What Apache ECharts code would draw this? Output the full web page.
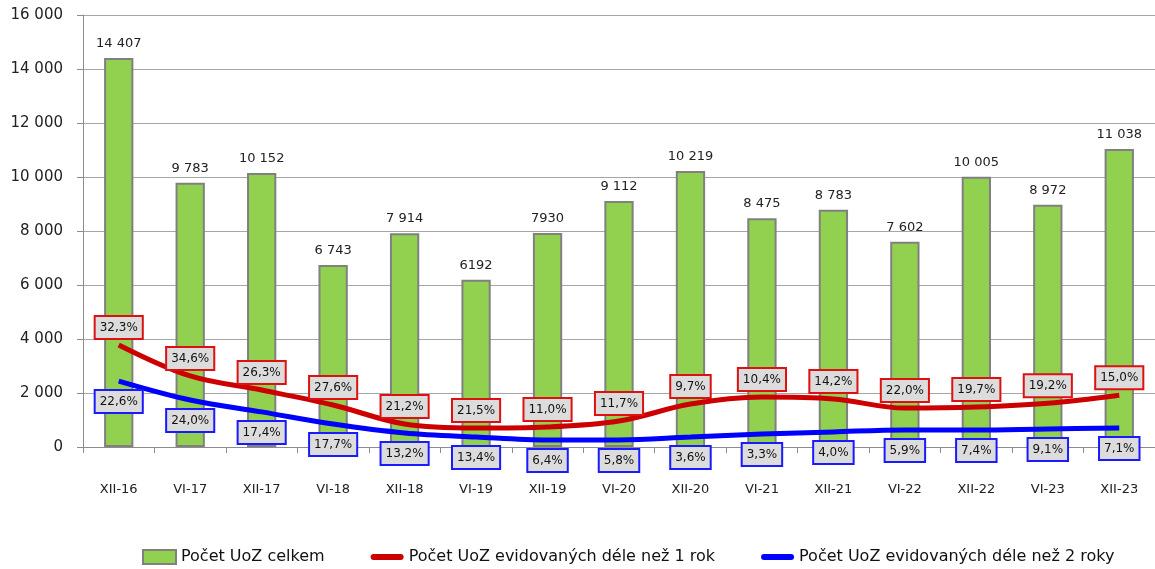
<!DOCTYPE html>
<html>
<head>
<meta charset="utf-8">
<script src="https://cdn.jsdelivr.net/npm/echarts@6/dist/echarts.min.js"></script>
<style>
html,body{margin:0;padding:0;background:#fff;}
#c{width:1155px;height:569px;}
</style>
</head>
<body>
<div id="c"></div>
<script>
const categories = ['XII-16','VI-17','XII-17','VI-18','XII-18','VI-19','XII-19','VI-20','XII-20','VI-21','XII-21','VI-22','XII-22','VI-23','XII-23'];
const totalValues = [14407, 9783, 10152, 6743, 7914, 6192, 7930, 9112, 10219, 8475, 8783, 7602, 10005, 8972, 11038];
const totalLabels = ['14 407','9 783','10 152','6 743','7 914','6192','7930','9 112','10 219','8 475','8 783','7 602','10 005','8 972','11 038'];
const over1Values = [3780, 2630, 2110, 1555, 850, 700, 740, 960, 1590, 1850, 1780, 1440, 1480, 1620, 1920];
const over1Pct = ['32,3%','34,6%','26,3%','27,6%','21,2%','21,5%','11,0%','11,7%','9,7%','10,4%','14,2%','22,0%','19,7%','19,2%','15,0%'];
const over2Values = [2440, 1740, 1300, 850, 520, 370, 260, 260, 370, 480, 560, 630, 630, 670, 700];
const over2Pct = ['22,6%','24,0%','17,4%','17,7%','13,2%','13,4%','6,4%','5,8%','3,6%','3,3%','4,0%','5,9%','7,4%','9,1%','7,1%'];
const seriesNames = ['Počet UoZ celkem','Počet UoZ evidovaných déle než 1 rok','Počet UoZ evidovaných déle než 2 roky'];

const FONT = '"DejaVu Sans", "Liberation Sans", sans-serif';
function fmt(v){ return String(v).replace(/\B(?=(\d{3})+(?!\d))/g,' '); }

const chart = echarts.init(document.getElementById('c'), null, {renderer:'canvas'});
const linePath = 'path://M3,0 H30 A3,3 0 0 1 30,6 H3 A3,3 0 0 1 3,0 Z';
const pctLabel = (border, pos, dist, arr) => ({
  show:true, position:pos, distance:dist, fontSize:12, color:'#111', fontFamily:FONT,
  backgroundColor:'#dcdcdc', borderColor:border, borderWidth:2, padding:[5,4,4,4],
  formatter:p=>arr[p.dataIndex]
});
chart.setOption({
  animation:false,
  backgroundColor:'#fff',
  textStyle:{fontFamily:FONT},
  grid:{left:83, right:-6, top:15, bottom:122, containLabel:false},
  legend:{
    left:137, top:544, itemGap:46, itemWidth:33, itemHeight:14,
    textStyle:{fontSize:16, color:'#111', fontFamily:FONT},
    data:[
      {name:seriesNames[0], icon:'rect'},
      {name:seriesNames[1], icon:linePath, itemStyle:{color:'#cc0000'}},
      {name:seriesNames[2], icon:linePath, itemStyle:{color:'#0000ff'}}
    ]
  },
  xAxis:{
    type:'category', data:categories, boundaryGap:true,
    axisLine:{lineStyle:{color:'#8c8c8c', width:1}},
    axisTick:{show:true, length:6, lineStyle:{color:'#8c8c8c'}},
    axisLabel:{fontSize:13, color:'#222', margin:36, fontFamily:FONT}
  },
  yAxis:{
    type:'value', min:0, max:16000, interval:2000,
    axisLine:{show:true, lineStyle:{color:'#8c8c8c'}},
    axisTick:{show:true, length:6, lineStyle:{color:'#8c8c8c'}},
    splitLine:{lineStyle:{color:'#a6a6a6', width:1}},
    axisLabel:{fontSize:15, color:'#222', margin:20, formatter:fmt, fontFamily:FONT}
  },
  series:[
    {
      name:seriesNames[0], type:'bar', data:totalValues, barWidth:'41%',
      itemStyle:{color:'#92d050', borderColor:'#808080', borderWidth:2},
      label:{show:true, position:'top', distance:8, fontSize:13, color:'#222', fontFamily:FONT,
        formatter:p=>totalLabels[p.dataIndex]}
    },
    {
      name:seriesNames[1], type:'line', data:over1Values, smooth:0.35,
      symbol:'circle', symbolSize:0, showSymbol:true, z:3,
      lineStyle:{color:'#cc0000', width:5}, itemStyle:{color:'#cc0000'},
      label:pctLabel('#d11', 'top', 7, over1Pct)
    },
    {
      name:seriesNames[2], type:'line', data:over2Values, smooth:0.35,
      symbol:'circle', symbolSize:0, showSymbol:true, z:3,
      lineStyle:{color:'#0000ff', width:5}, itemStyle:{color:'#0000ff'},
      label:pctLabel('#1a1aff', 'bottom', 10, over2Pct)
    }
  ]
});
</script>
</body>
</html>
